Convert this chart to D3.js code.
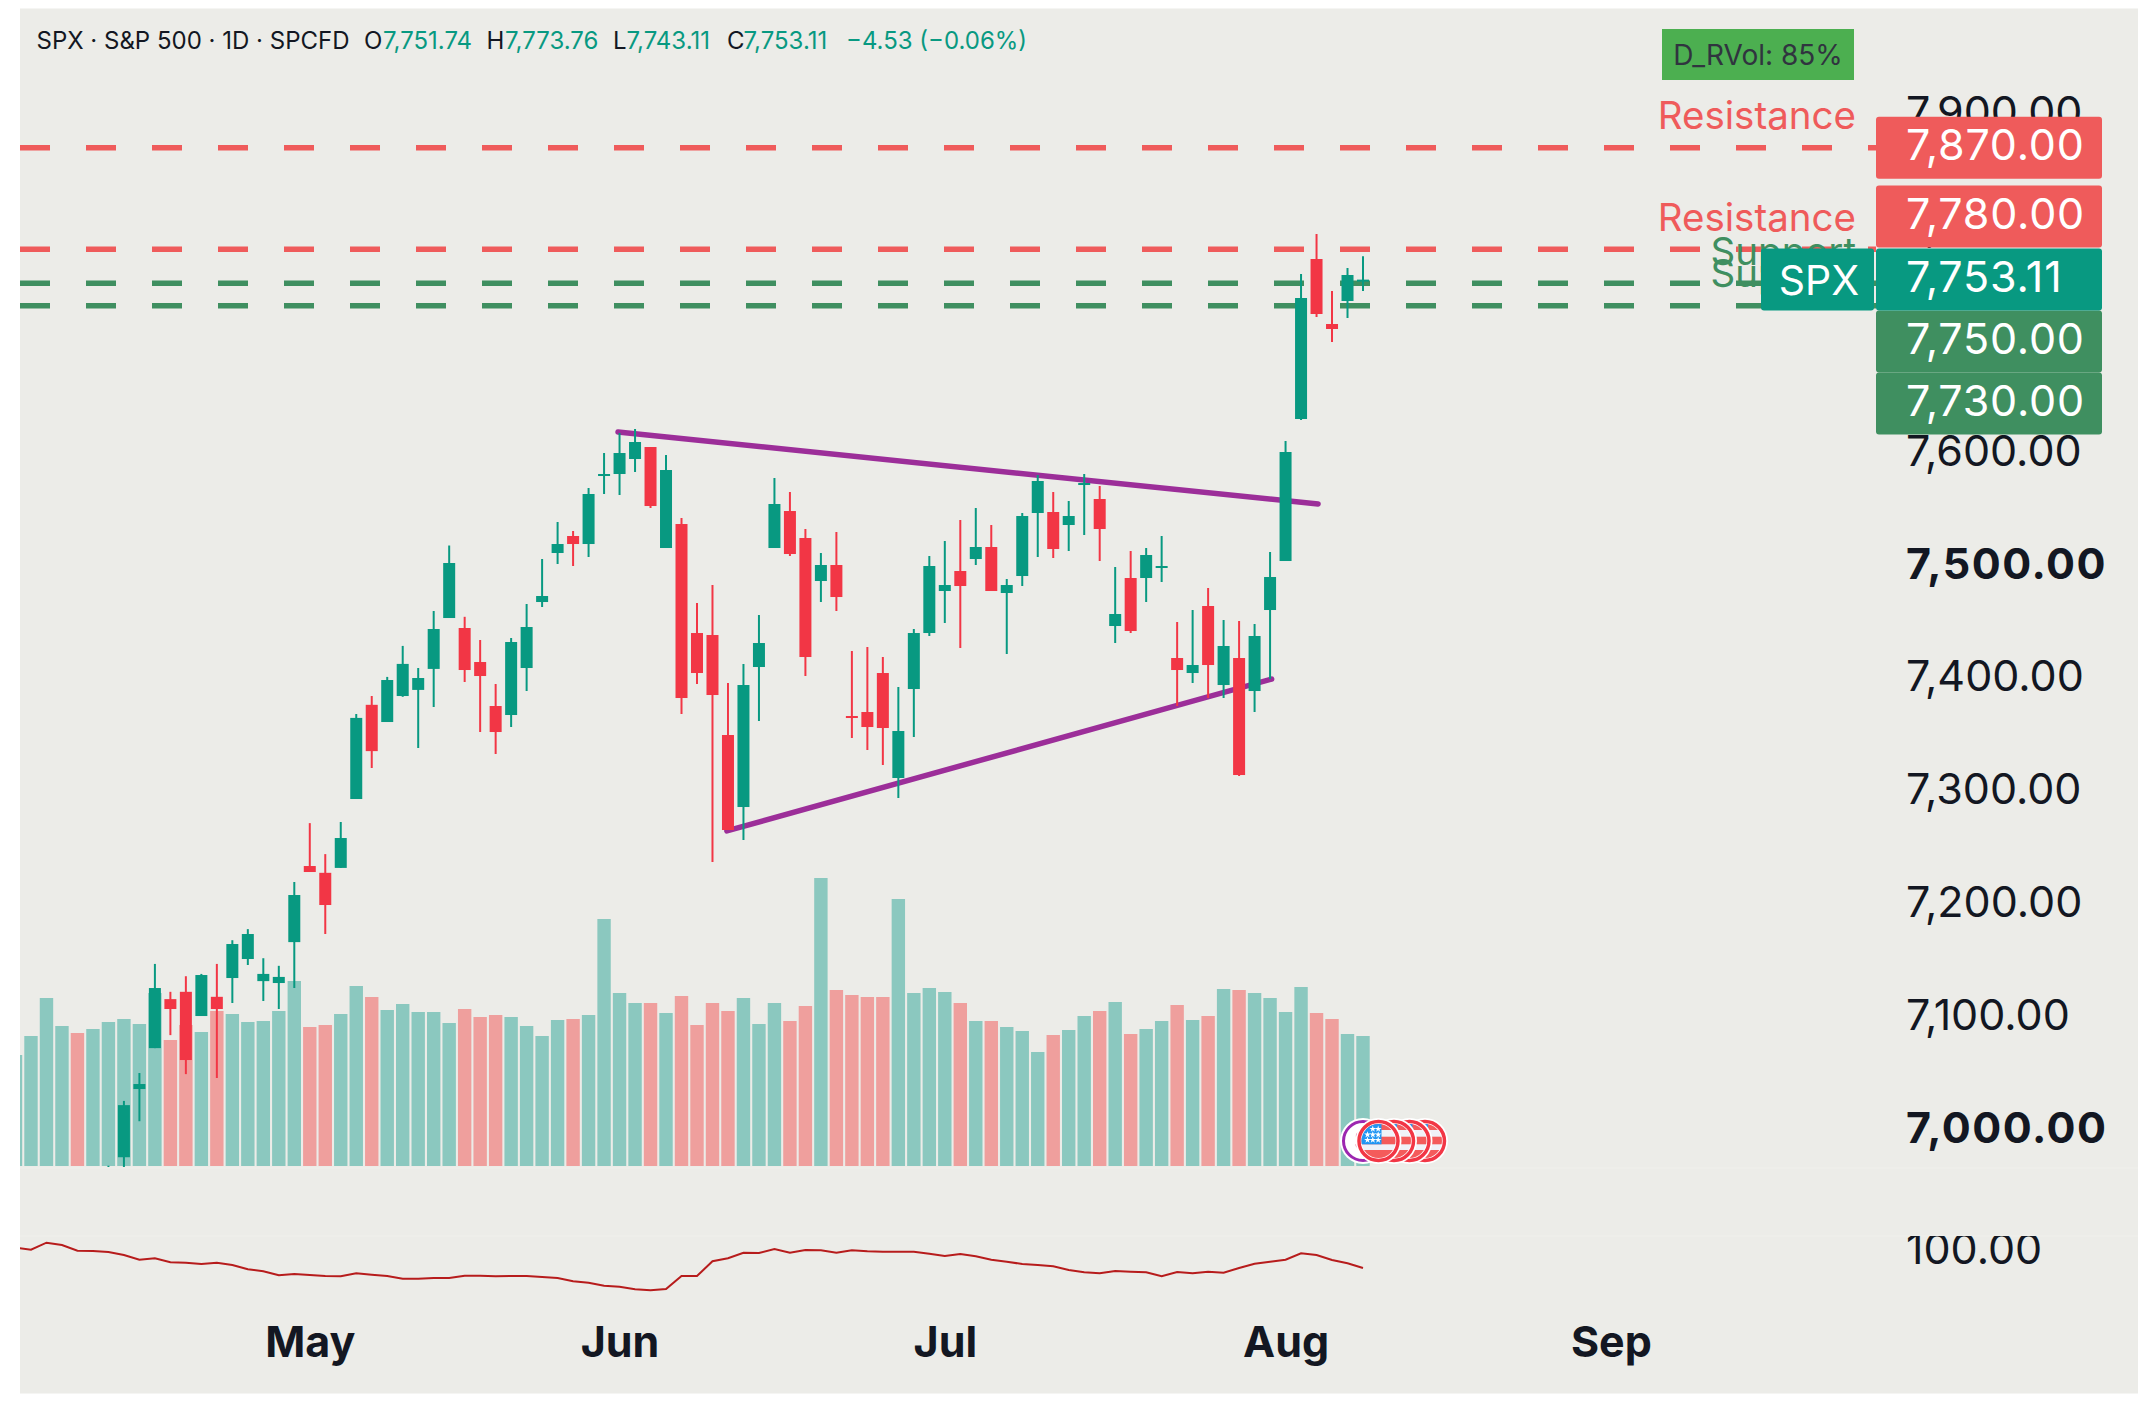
<!DOCTYPE html>
<html>
<head>
<meta charset="utf-8">
<script src="https://cdn.jsdelivr.net/npm/d3@7"></script>
<style>
  body { margin: 0; background: #fff; }
  text { font-family: Inter, sans-serif; }
</style>
</head>
<body>
<svg id="chart" width="2154" height="1409"></svg>
<script>
// candles, bar 0-5 are below the visible part of the price pane
var opens = [null,null,null,null,null,null,6945,6975.52,7035.95,7072.19,7115.61,7122.08,7100.63,7117.65,7134.3,7151.14,7131.56,7129.87,7166.12,7233.54,7227.52,7231.86,7292.91,7376.37,7361.13,7384.17,7389.58,7408.18,7453.28,7444.43,7414.3,7375.31,7367.34,7408.98,7467.46,7510.88,7525.94,7518.85,7579.11,7580.88,7594.17,7604.8,7515.31,7536.57,7439.99,7438.22,7349.62,7285.82,7409.87,7515.31,7548.09,7524.17,7486.07,7500.25,7366.45,7370,7404.55,7311.52,7390.37,7439.99,7477.21,7494.93,7505.56,7516.2,7475.44,7490.5,7546.32,7547.21,7535.69,7571.13,7558.73,7446.2,7488.73,7488.73,7497.59,7417.84,7404.55,7463.92,7393.92,7417.84,7388.6,7460.37,7503.79,7629.61,7771.38,7713.79,7734.17,7751.74];
var highs = [null,null,null,null,null,null,6968,7025.41,7050.13,7146.8,7122.08,7135.9,7137.94,7146.8,7167.8,7177.63,7151.85,7145.11,7219.37,7271.55,7244.09,7272.53,7368.22,7384.17,7401.1,7428.57,7408.98,7459.49,7517.52,7454.35,7433.79,7394.8,7435.56,7465.69,7505.56,7538.35,7530.37,7568.47,7599.48,7617.21,7620.75,7604.8,7597.71,7541.89,7466.58,7482.52,7395.69,7412.53,7455.94,7577.33,7564.93,7532.14,7510.88,7529.49,7424.05,7427.59,7418.73,7392.15,7443.54,7508.22,7521.51,7540.12,7550.75,7535.69,7487.84,7546.32,7579.99,7564.93,7556.95,7580.88,7570.24,7498.47,7512.65,7515.31,7525.94,7449.74,7460.37,7479.87,7451.51,7450.63,7447.97,7511.77,7610.12,7758.09,7793.53,7743.03,7763.41,7773.76];
var lows = [null,null,null,null,null,null,6930,6960,7007.42,7072.19,7083.71,7049.15,7100.63,7045.7,7112.15,7145.82,7113.92,7106.84,7125.44,7228.23,7173.29,7231.86,7292.91,7320.38,7361.13,7383.46,7338.1,7374.43,7453.28,7396.58,7352.27,7332.78,7356.7,7388.6,7463.03,7501.13,7499.36,7507.33,7563.16,7562.27,7582.65,7550.75,7515.31,7368.22,7394.8,7237.09,7265.44,7256.58,7362.02,7515.31,7508.22,7401.89,7467.46,7459.49,7346.96,7336.32,7323.03,7293.79,7347.84,7437.34,7448.85,7426.7,7500.25,7477.21,7421.39,7481.64,7507.33,7506.45,7512.65,7526.83,7503.79,7431.13,7439.99,7467.46,7485.18,7375.31,7395.69,7382.4,7382.4,7313.29,7370,7399.24,7503.79,7628.72,7719.99,7697.84,7719.1,7743.11];
var closes = [null,null,null,null,null,null,6955,7021.69,7040.38,7125.44,7106.84,7061.65,7136.96,7106.84,7164.43,7173.29,7137.94,7135.28,7207.85,7228.23,7198.99,7258.35,7364.77,7335.35,7398.35,7412.62,7400.12,7443.54,7502.02,7407.21,7401.89,7352.27,7432.02,7445.31,7472.78,7518.85,7518.85,7563.16,7580.88,7599.48,7609.23,7552.52,7584.42,7382.4,7404.55,7385.06,7265.44,7393.92,7431.13,7554.3,7509.99,7418.73,7500.25,7471.89,7364.68,7356.7,7355.82,7353.16,7439.99,7499.36,7482.52,7481.64,7516.2,7477.21,7482.52,7543.66,7574.68,7514.42,7543.66,7572.9,7532.14,7456.83,7441.77,7509.11,7499.36,7407.21,7411.64,7411.64,7428.48,7314.17,7437.34,7489.61,7600.37,7736.82,7722.65,7709.36,7757.2,7753.11];

var volumes = [111,130,168,140,133,137,144,147,142,173,126,141,134,155,152,144,145,155,185,139,141,152,180,169,156,162,154,154,143,157,149,151,149,140,130,146,147,151,247,173,163,163,153,170,141,163,155,168,142,163,145,160,288,176,171,169,169,267,173,178,174,163,145,145,139,135,114,131,136,150,155,164,132,137,145,161,146,150,177,176,173,168,154,179,153,147,132,130];
var volumeDownBars = [4,10,11,13,19,20,23,29,30,31,36,41,43,44,45,46,50,51,53,54,55,56,61,63,67,70,72,75,77,79,84,85];

var indicator = [101.3,99.3,106.3,104,98.3,98,97,94,89.3,90.7,86.7,86.3,85,86.3,84,79.7,77.7,73.7,75,74,73,72.7,75.7,74.3,73,70.3,70.3,71,71,73.3,73.3,72.7,73,73,72,71,67.7,66.3,63.3,62.3,59.7,58.7,60,73,73,87.7,90.7,96.3,96,100,96.3,99,98.7,96.3,98.7,97.7,97.3,97.3,97.3,95.3,93,95,92.7,89.3,87.3,85,84,82.7,79,76.7,75.7,78,77.3,76.7,72.7,77,75.7,77.3,76.3,81,85.3,87.3,89.3,95.7,94,89,85.7,81];

var priceTicks = [7000,7100,7200,7300,7400,7500,7600,7700,7800,7900];
var boldTicks = [7000,7500];
var monthBars = [19,39,60,82,103];
var monthNames = ["May","Jun","Jul","Aug","Sep"];

var lastPrice = 7753.11;
var levelValues = [7870,7780,7750,7730];
var levelNames = ["Resistance","Resistance","Support","Support"];
var trendBars = [[38.9,84.1],[45.93,81.1]];
var trendPrices = [[7618.1,7554.3],[7264.6,7399.2]];
var eventBars = [91,90,89,88];
var dividendBar = 87;

var upColor="#089981", downColor="#F23645";
var levelRed="#EF5B5B", levelGreen="#3F8F60";

var svg=d3.select("#chart");
var defs=svg.append("defs");

svg.append("rect").attr("x",20).attr("y",8.5).attr("width",2118).attr("height",1385).attr("fill","#ECECE8");

defs.append("clipPath").attr("id","pricePane").append("rect").attr("x",20).attr("y",9).attr("width",2118).attr("height",1158);
defs.append("clipPath").attr("id","lowerPane").append("rect").attr("x",20).attr("y",1236).attr("width",2118).attr("height",157);

var x=d3.scaleLinear().domain([0,87]).range([15.5,1363]);
var y=d3.scaleLinear().domain([7000,7870]).range([1129.6,147.7]);
var yVol=d3.scaleLinear().domain([0,288]).range([1166,878]);
var yInd=d3.scaleLinear().domain([0,100]).range([1349,1249]);

// pane separators
svg.selectAll("line.sep").data([1168,1236]).enter().append("line")
   .attr("x1",20).attr("x2",2138).attr("y1",function(d){return d;}).attr("y2",function(d){return d;})
   .attr("stroke","#EEEEEA").attr("stroke-width",2);

var pane=svg.append("g").attr("clip-path","url(#pricePane)");

// volume
var barW=13.4;
pane.selectAll("rect.vol").data(volumes).enter().append("rect")
   .attr("x",function(d,i){return x(i)-barW/2;})
   .attr("y",function(d){return yVol(d);})
   .attr("width",barW)
   .attr("height",function(d){return yVol(0)-yVol(d);})
   .attr("fill",function(d,i){return volumeDownBars.indexOf(i)>=0?"#EF9F9D":"#8BC8BF";});

// support and resistance lines
var levelColor=function(d){return d>lastPrice?levelRed:levelGreen;};
pane.selectAll("line.level").data(levelValues).enter().append("line")
   .attr("x1",20).attr("x2",1876)
   .attr("y1",function(d){return y(d);}).attr("y2",function(d){return y(d);})
   .attr("stroke",levelColor).attr("stroke-width",5.5).attr("stroke-dasharray","30 36");

// trend lines
var trend=d3.line().x(function(d){return x(d[0]);}).y(function(d){return y(d[1]);});
trendBars.forEach(function(b,k){
   pane.append("path")
      .attr("d",trend([[b[0],trendPrices[k][0]],[b[1],trendPrices[k][1]]]))
      .attr("fill","none").attr("stroke","#9C2E99").attr("stroke-width",5.5).attr("stroke-linecap","round");
});

// candles
var bars=d3.range(opens.length).filter(function(i){return opens[i]!==null;});
var candleColor=function(i){return closes[i]>=opens[i]?upColor:downColor;};
pane.selectAll("line.wick").data(bars).enter().append("line")
   .attr("x1",function(i){return x(i);}).attr("x2",function(i){return x(i);})
   .attr("y1",function(i){return y(highs[i]);}).attr("y2",function(i){return y(lows[i]);})
   .attr("stroke",candleColor).attr("stroke-width",2);
pane.selectAll("rect.body").data(bars).enter().append("rect")
   .attr("x",function(i){return x(i)-6;})
   .attr("y",function(i){return y(Math.max(opens[i],closes[i]));})
   .attr("width",12)
   .attr("height",function(i){return Math.max(2,Math.abs(y(opens[i])-y(closes[i])));})
   .attr("fill",candleColor);

// indicator line
svg.append("g").attr("clip-path","url(#lowerPane)").append("path")
   .attr("d",d3.line().x(function(d,i){return x(i);}).y(function(d){return yInd(d);})(indicator))
   .attr("fill","none").attr("stroke","#B71C1C").attr("stroke-width",2);

// event markers
var markerY=1141;
var dividend=svg.append("g").attr("transform","translate("+x(dividendBar)+","+markerY+")");
dividend.append("circle").attr("r",23).attr("fill","#fff");
dividend.append("circle").attr("r",19.5).attr("fill","#fff").attr("stroke","#9C27B0").attr("stroke-width",3);
dividend.append("text").attr("x",-1).attr("y",8).attr("text-anchor","middle").attr("font-size",24).attr("fill","#9C27B0").text("$");

defs.append("clipPath").attr("id","flagClip").append("circle").attr("r",17);
var stripes=[[-17,-11,1],[-11,-4.3,0],[-4.3,3.3,1],[3.3,9,0],[9,17,1]];
var stars=[[-5.7,-12],[-0.3,-12],[-11,-6.3],[-5.7,-6.3],[-0.3,-6.3],[-11,-1],[-5.7,-1],[-0.3,-1]];
var star=d3.symbol().type(d3.symbolStar).size(14);
eventBars.forEach(function(b){
   var g=svg.append("g").attr("transform","translate("+x(b)+","+markerY+")");
   g.append("circle").attr("r",23).attr("fill","#fff");
   var f=g.append("g").attr("clip-path","url(#flagClip)");
   f.append("rect").attr("x",-18).attr("y",-18).attr("width",36).attr("height",36).attr("fill","#F0F2F8");
   stripes.forEach(function(s){
      if(s[2]) f.append("rect").attr("x",-18).attr("y",s[0]).attr("width",36).attr("height",s[1]-s[0]).attr("fill","#F45B5B");
   });
   f.append("rect").attr("x",-18).attr("y",-18).attr("width",21).attr("height",21.3).attr("fill","#2196F3");
   stars.forEach(function(p){
      f.append("path").attr("d",star()).attr("transform","translate("+p[0]+","+p[1]+")").attr("fill","#fff");
   });
   g.append("circle").attr("r",19.5).attr("fill","none").attr("stroke","#F23645").attr("stroke-width",3.5);
});

// price axis
var priceAxis=d3.axisRight(y).tickValues(priceTicks).tickSize(0).tickPadding(0).tickFormat(d3.format(",.2f"));
var priceG=svg.append("g").attr("transform","translate(1906,-1)").call(priceAxis);
priceG.select(".domain").remove();
priceG.selectAll("text")
   .style("font-family","Inter").style("font-size","43px").attr("fill","#131722")
   .style("font-weight",function(d){return boldTicks.indexOf(d)>=0?700:400;})
   .style("letter-spacing",function(d){return boldTicks.indexOf(d)>=0?"1.5px":"0";});

var indAxis=d3.axisRight(yInd).tickValues([100]).tickSize(0).tickPadding(0).tickFormat(d3.format(",.2f"));
var indG=svg.append("g").attr("clip-path","url(#lowerPane)").append("g").attr("transform","translate(1906,1)").call(indAxis);
indG.select(".domain").remove();
indG.selectAll("text").style("font-family","Inter").style("font-size","43px").attr("fill","#131722");

// time axis
var timeAxis=d3.axisBottom(x).tickValues(monthBars).tickSize(0).tickPadding(0)
   .tickFormat(function(d,i){return monthNames[i];});
var timeG=svg.append("g").attr("transform","translate(0,1326)").call(timeAxis);
timeG.select(".domain").remove();
timeG.selectAll("text")
   .style("font-family","Inter").style("font-size","43px").style("font-weight",700).attr("fill","#131722");

// level labels
svg.selectAll("text.levelName").data(levelValues).enter().append("text")
   .attr("x",1856).attr("y",function(d){return y(d)-18.5;})
   .attr("text-anchor","end").attr("font-size",38.5).attr("fill",levelColor)
   .text(function(d,i){return levelNames[i];});

// right hand tags, stacked around the last price tag
var tagH=62;
var tagPos={};
var above=levelValues.filter(function(v){return v>lastPrice;}).sort(d3.ascending);
var below=levelValues.filter(function(v){return v<lastPrice;}).sort(d3.descending);
var edge=y(lastPrice)-tagH/2;
above.forEach(function(v){tagPos[v]=Math.min(y(v),edge-1-tagH/2);edge=tagPos[v]-tagH/2;});
edge=y(lastPrice)+tagH/2;
below.forEach(function(v){tagPos[v]=Math.max(y(v),edge+tagH/2);edge=tagPos[v]+tagH/2;});
tagPos[lastPrice]=y(lastPrice);

var tags=svg.selectAll("g.tag").data(levelValues.concat([lastPrice])).enter().append("g");
tags.append("rect")
   .attr("x",1876).attr("width",226).attr("height",tagH).attr("rx",3)
   .attr("y",function(d){return tagPos[d]-tagH/2;})
   .attr("fill",function(d){return d===lastPrice?upColor:levelColor(d);});
tags.append("text")
   .attr("x",1906).attr("y",function(d){return tagPos[d]+12;})
   .attr("font-size",43).style("letter-spacing","0.8px").attr("fill","#fff")
   .text(d3.format(",.2f"));

svg.append("rect").attr("x",1761).attr("y",y(lastPrice)-tagH/2).attr("width",113).attr("height",tagH).attr("rx",3).attr("fill",upColor);
svg.append("text").attr("x",1819).attr("y",y(lastPrice)+15).attr("text-anchor","middle")
   .attr("font-size",41).attr("fill","#fff").text("SPX");

// realized volume badge
svg.append("rect").attr("x",1662).attr("y",29).attr("width",192).attr("height",51).attr("fill","#4CAF50");
svg.append("text").attr("x",1758).attr("y",65).attr("text-anchor","middle")
   .attr("font-size",28).attr("fill","#30343F").text("D_RVol: 85%");

// header
var header=svg.append("text").attr("y",49).attr("font-size",24).attr("fill","#131722");
[[36.5,"SPX · S&P 500 · 1D · SPCFD",0],[364,"O",0],[383,"7,751.74",1],[486.5,"H",0],[505,"7,773.76",1],
 [613,"L",0],[626.5,"7,743.11",1],[727,"C",0],[743.5,"7,753.11",1],[846,"−4.53 (−0.06%)",1]].forEach(function(p){
   header.append("tspan").attr("x",p[0]).attr("fill",p[2]?upColor:"#131722").text(p[1]);
});
</script>
</body>
</html>
